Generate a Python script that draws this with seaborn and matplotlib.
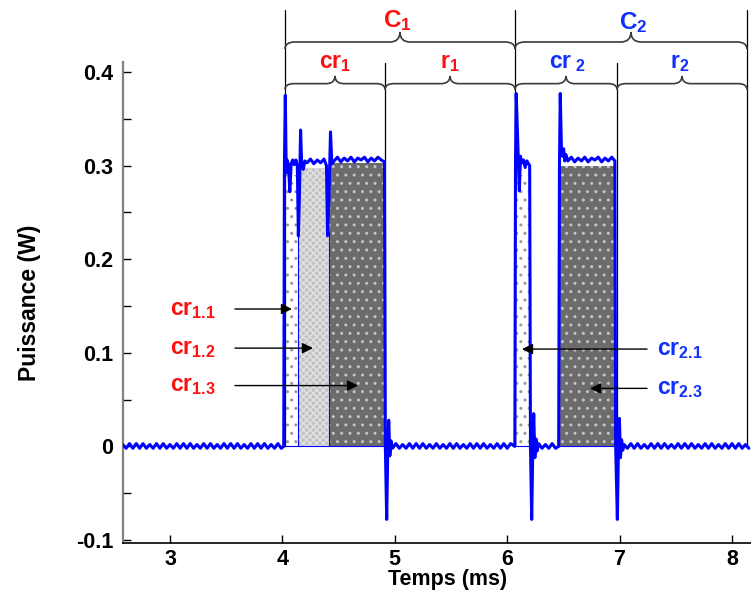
import numpy as np
import pandas as pd
import matplotlib
matplotlib.use("Agg")
import matplotlib.pyplot as plt
import seaborn as sns
from matplotlib import font_manager
from matplotlib.path import Path
from matplotlib.patches import PathPatch
from matplotlib.transforms import blended_transform_factory

# ---------------------------------------------------------------- data
# baseline ripple segments: (start time in ms, sample step in ms, power values in W)
base1_start, base1_step = 2.58, 0.03
base1 = [0.002, -0.002, 0.003, -0.002, 0.003, -0.002, 0.003, -0.002, 0.002, -0.002, 0.003, -0.002,
         0.003, -0.002, 0.002, -0.002, 0.003, -0.002, 0.003, -0.002, 0.003, -0.002, 0.002, -0.002,
         0.003, -0.002, 0.003, -0.002, 0.002, -0.002, 0.003, -0.002, 0.003, -0.002, 0.003, -0.002,
         0.002, -0.002, 0.003, -0.002, 0.003, -0.002, 0.003, -0.002, 0.002, -0.002, 0.003, -0.002]

# first pulse (cr1): start-up spikes then plateau
pulse1_t = [4.012, 4.018, 4.026, 4.034, 4.042, 4.055, 4.066, 4.078, 4.092, 4.106, 4.120, 4.133,
            4.142, 4.152, 4.162, 4.172, 4.186, 4.200]
pulse1_p = [0.000, 0.300, 0.375, 0.292, 0.306, 0.300, 0.272, 0.302, 0.306, 0.301, 0.306, 0.300,
            0.225, 0.270, 0.338, 0.300, 0.296, 0.305]
top1a_start, top1a_step = 4.22, 0.03
top1a = [0.303, 0.307, 0.302, 0.306, 0.303, 0.307]
dip1_t = [4.392, 4.402, 4.414, 4.428, 4.440]
dip1_p = [0.300, 0.225, 0.265, 0.336, 0.302]
top1b_start, top1b_step = 4.46, 0.03
top1b = [0.305, 0.309, 0.304, 0.308, 0.305, 0.309, 0.304, 0.308, 0.306, 0.309, 0.304, 0.308,
         0.305, 0.309, 0.306]
fall1_t = [4.908, 4.916, 4.928, 4.938, 4.946, 4.956, 4.966]
fall1_p = [0.304, 0.000, -0.078, 0.000, 0.028, -0.010, 0.006]

base2_start, base2_step = 4.98, 0.03
base2 = [-0.002, 0.003, -0.002, 0.002, -0.002, 0.003, -0.002, 0.003, -0.002, 0.003, -0.002, 0.002,
         -0.002, 0.003, -0.002, 0.002, -0.002, 0.003, -0.002, 0.003, -0.002, 0.002, -0.002, 0.003,
         -0.002, 0.003, -0.002, 0.003, -0.002, 0.002, -0.002, 0.003, -0.002, 0.003, -0.002, 0.003]

# second pulse, first part (cr2.1)
pulse2_t = [6.068, 6.074, 6.080, 6.090, 6.099, 6.108, 6.118, 6.130, 6.145, 6.160, 6.175, 6.190,
            6.200, 6.207, 6.218, 6.228, 6.236, 6.246, 6.256, 6.266]
pulse2_p = [0.000, 0.300, 0.377, 0.340, 0.310, 0.273, 0.310, 0.303, 0.306, 0.298, 0.305, 0.302,
            0.300, 0.000, -0.078, 0.000, 0.035, -0.012, 0.008, -0.005]
base3_start, base3_step = 6.28, 0.03
base3 = [0.003, -0.002, 0.002, -0.002, 0.003, -0.002]

# second pulse, last part (cr2.3)
pulse3_t = [6.458, 6.465, 6.472, 6.482, 6.492, 6.502, 6.512, 6.522]
pulse3_p = [0.000, 0.300, 0.377, 0.320, 0.310, 0.318, 0.305, 0.312]
top2_start, top2_step = 6.54, 0.03
top2 = [0.305, 0.309, 0.304, 0.308, 0.305, 0.309, 0.304, 0.308, 0.306, 0.309, 0.304, 0.308,
        0.305, 0.309]
fall2_t = [6.958, 6.965, 6.980, 6.990, 6.998, 7.008, 7.018, 7.028]
fall2_p = [0.305, 0.000, -0.078, 0.000, 0.030, -0.012, 0.007, -0.004]

base4_start, base4_step = 7.04, 0.03
base4 = [0.002, -0.002, 0.003, -0.002, 0.003, -0.002, 0.002, -0.002, 0.003, -0.002, 0.003, -0.002,
         0.003, -0.002, 0.002, -0.002, 0.003, -0.002, 0.003, -0.002, 0.003, -0.002, 0.002, -0.002,
         0.003, -0.002, 0.003, -0.002, 0.002, -0.002, 0.003, -0.002, 0.003, -0.002, 0.003, -0.002,
         0.002, -0.002]

# shaded sub-phases: (name, start ms, end ms, level W)
phase_names = ["cr1.1", "cr1.2", "cr1.3", "cr2.1", "cr2.3"]
phase_start = [4.023, 4.140, 4.415, 6.078, 6.465]
phase_end = [4.140, 4.415, 4.913, 6.203, 6.965]
phase_level = [0.290, 0.297, 0.303, 0.290, 0.300]

# cycle / phase boundaries (ms)
cycle_bounds = [4.023, 6.069, 8.133]
phase_bounds = [4.913, 6.977]

x_ticks = [3, 4, 5, 6, 7, 8]
y_ticks = [-0.1, 0, 0.1, 0.2, 0.3, 0.4]
y_ticklabels = ["-0.1", "0", "0.1", "0.2", "0.3", "0.4"]

# ---------------------------------------------------------------- assemble trace
def sampled(start, step, vals):
    return list(start + step * np.arange(len(vals))), list(vals)

pieces = [
    sampled(base1_start, base1_step, base1),
    (pulse1_t, pulse1_p),
    sampled(top1a_start, top1a_step, top1a),
    (dip1_t, dip1_p),
    sampled(top1b_start, top1b_step, top1b),
    (fall1_t, fall1_p),
    sampled(base2_start, base2_step, base2),
    (pulse2_t, pulse2_p),
    sampled(base3_start, base3_step, base3),
    (pulse3_t, pulse3_p),
    sampled(top2_start, top2_step, top2),
    (fall2_t, fall2_p),
    sampled(base4_start, base4_step, base4),
]
t_all, p_all = [], []
for tt, pp in pieces:
    t_all += list(tt)
    p_all += list(pp)
trace = pd.DataFrame({"Temps": t_all, "Puissance": p_all})

# ---------------------------------------------------------------- style
sns.set_theme(style="ticks")
names = {f.name for f in font_manager.fontManager.ttflist}
narrow = "Liberation Sans Narrow" if "Liberation Sans Narrow" in names else "Liberation Sans"
plt.rcParams["font.family"] = ["Liberation Sans", "DejaVu Sans"]
plt.rcParams["font.weight"] = "bold"
plt.rcParams["text.color"] = "black"
plt.rcParams["axes.labelcolor"] = "black"
plt.rcParams["xtick.color"] = "black"
plt.rcParams["ytick.color"] = "black"
plt.rcParams["mathtext.fontset"] = "custom"
plt.rcParams["mathtext.rm"] = "Liberation Sans:bold"
plt.rcParams["mathtext.bf"] = "Liberation Sans:bold"
plt.rcParams["mathtext.it"] = "Liberation Sans:bold"
plt.rcParams["hatch.linewidth"] = 1.0

RED = "#ff1010"
BLUE_TXT = "#1030ff"
BLUE = "#0000ff"

fig = plt.figure(figsize=(7.51, 5.97), dpi=100)
ax = fig.add_axes([123 / 751, 1 - 543 / 597, 628 / 751, 481 / 597])
ymin, ymax = -0.1032, 0.4107
ax.set_xlim(2.582, 8.169)
ax.set_ylim(ymin, ymax)

# ---------------------------------------------------------------- shaded phases
styles = {
    "cr1.1": dict(facecolor="white", hatch="..", edgecolor="#9a9a9a"),
    "cr1.2": dict(facecolor="#c2c2c2", hatch="xxxxx", edgecolor="#e2e2e2"),
    "cr1.3": dict(facecolor="#6c6c6c", hatch="..", edgecolor="#c4c4c4"),
    "cr2.1": dict(facecolor="white", hatch="..", edgecolor="#9a9a9a"),
    "cr2.3": dict(facecolor="#6c6c6c", hatch="..", edgecolor="#c4c4c4"),
}
for name, a, b, lev in zip(phase_names, phase_start, phase_end, phase_level):
    ax.fill_between([a, b], 0, lev, linewidth=0, zorder=1, **styles[name])
    ax.plot([a, b], [0, 0], color=BLUE, lw=0.8, zorder=1.5)
ax.vlines([phase_end[0], phase_end[1]], 0, 0.23, color=BLUE, lw=0.8, zorder=1.5)

# ---------------------------------------------------------------- power trace
sns.lineplot(data=trace, x="Temps", y="Puissance", sort=False, estimator=None,
             color=BLUE, lw=2.2, ax=ax, zorder=3)

# ---------------------------------------------------------------- axes
ax.set_xticks(x_ticks)
ax.set_xticklabels([str(v) for v in x_ticks], fontfamily=narrow, fontsize=15.5, fontweight="bold")
ax.set_yticks(y_ticks)
ax.set_yticklabels(y_ticklabels, fontsize=15.5, fontweight="bold")
ax.set_yticks(np.arange(-0.1, 0.41, 0.05), minor=True)
ax.tick_params(axis="both", which="both", direction="in", length=6, width=1, color="black",
               labelcolor="black")
ax.tick_params(axis="y", pad=7)
ax.tick_params(axis="x", pad=4)
for s in ("top", "right"):
    ax.spines[s].set_visible(False)
ax.spines["left"].set_color("#808080")
ax.spines["left"].set_linewidth(1.6)
ax.spines["bottom"].set_color("black")
ax.spines["bottom"].set_linewidth(1.2)

ax.set_xlabel("Temps (ms)", fontfamily=narrow, fontsize=15.5, fontweight="bold",
              ha="center", va="center", color="black")
ax.xaxis.set_label_coords((448 - 123) / 628, (543 - 580) / 481)
ax.set_ylabel("Puissance (W)", fontsize=16.5, fontweight="bold", ha="center", va="center",
              color="black")
ax.yaxis.set_label_coords((30 - 123) / 628, (543 - 303) / 481)

# ---------------------------------------------------------------- boundaries and braces
trans = blended_transform_factory(ax.transData, ax.transAxes)
y0_ax = (0 - ymin) / (ymax - ymin)
for xb in cycle_bounds:
    ax.plot([xb, xb], [y0_ax, 1.108], color="black", lw=0.9, transform=trans,
            clip_on=False, zorder=2)
for xb in phase_bounds:
    ax.plot([xb, xb], [y0_ax, 0.998], color="black", lw=0.9, transform=trans,
            clip_on=False, zorder=2)


def brace(x0, x1, y_end, y_flat, y_tip, r):
    xm = (x0 + x1) / 2
    verts = [(x0, y_end), (x0, y_flat), (x0 + r, y_flat),
             (xm - r, y_flat),
             (xm, y_flat), (xm, y_tip),
             (xm, y_flat), (xm + r, y_flat),
             (x1 - r, y_flat),
             (x1, y_flat), (x1, y_end)]
    codes = [Path.MOVETO, Path.CURVE3, Path.CURVE3, Path.LINETO, Path.CURVE3, Path.CURVE3,
             Path.CURVE3, Path.CURVE3, Path.LINETO, Path.CURVE3, Path.CURVE3]
    ax.add_patch(PathPatch(Path(verts, codes), fill=False, edgecolor="#3a3a3a", lw=1.2,
                           transform=trans, clip_on=False, zorder=2))


big = dict(y_end=1.027, y_flat=1.0416, y_tip=1.0624, r=0.09)
small = dict(y_end=0.943, y_flat=0.955, y_tip=0.971, r=0.08)
brace(cycle_bounds[0], cycle_bounds[1], **big)
brace(cycle_bounds[1], cycle_bounds[2], **big)
brace(cycle_bounds[0], phase_bounds[0], **small)
brace(phase_bounds[0], cycle_bounds[1], **small)
brace(cycle_bounds[1], phase_bounds[1], **small)
brace(phase_bounds[1], cycle_bounds[2], **small)

txt = dict(transform=trans, ha="center", va="center", fontsize=17.5, clip_on=False)
ax.text(5.02, 1.087, r"$\mathbf{C}_{\mathbf{1}}$", color=RED, **txt)
ax.text(7.12, 1.081, r"$\mathbf{C}_{\mathbf{2}}$", color=BLUE_TXT, **txt)
txt["fontsize"] = 16.5
ax.text(4.468, 1.000, r"$\mathbf{cr}_{\mathbf{1}}$", color=RED, **txt)
ax.text(5.49, 1.000, r"$\mathbf{r}_{\mathbf{1}}$", color=RED, **txt)
ax.text(6.54, 0.998, r"$\mathbf{cr}_{\mathbf{\ 2}}$", color=BLUE_TXT, **txt)
ax.text(7.537, 1.000, r"$\mathbf{r}_{\mathbf{2}}$", color=BLUE_TXT, **txt)

# ---------------------------------------------------------------- sub-phase callouts
arrow = dict(arrowstyle="-|>", color="black", lw=1.0, mutation_scale=16, shrinkA=0, shrinkB=0)
left_labels = [r"$\mathbf{cr}_{\mathbf{1.1}}$", r"$\mathbf{cr}_{\mathbf{1.2}}$",
               r"$\mathbf{cr}_{\mathbf{1.3}}$"]
left_y = [0.1468, 0.105, 0.065]
left_tip = [4.085, 4.272, 4.673]
for lab, yy, tip in zip(left_labels, left_y, left_tip):
    ax.text(3.0, yy, lab, color=RED, fontsize=16.5, ha="left", va="center")
    ax.annotate("", xy=(tip, yy), xytext=(3.578, yy), arrowprops=arrow, zorder=4)

right_labels = [r"$\mathbf{cr}_{\mathbf{2.1}}$", r"$\mathbf{cr}_{\mathbf{2.3}}$"]
right_y = [0.104, 0.062]
right_tip = [6.132, 6.737]
for lab, yy, tip in zip(right_labels, right_y, right_tip):
    ax.text(7.333, yy, lab, color=BLUE_TXT, fontsize=16.5, ha="left", va="center")
    ax.annotate("", xy=(tip, yy), xytext=(7.244, yy), arrowprops=arrow, zorder=4)

fig.savefig("out.png", dpi=100)
